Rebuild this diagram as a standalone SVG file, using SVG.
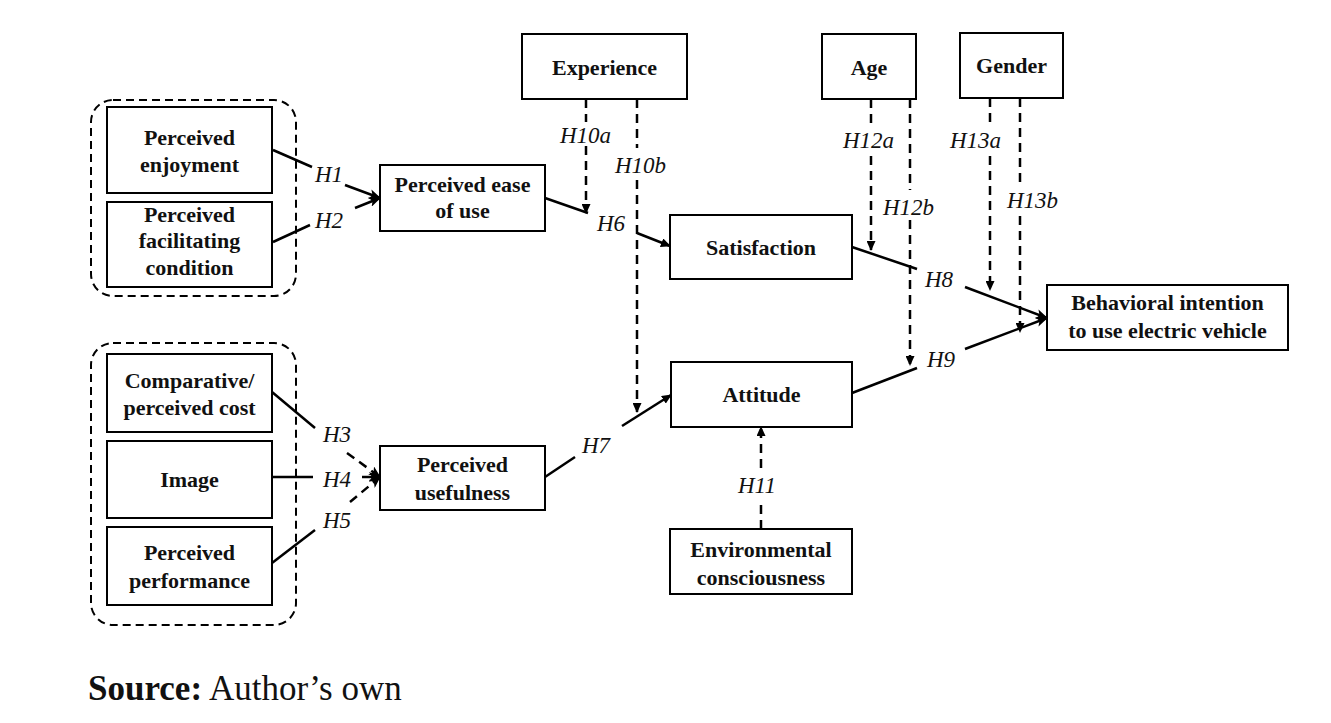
<svg xmlns="http://www.w3.org/2000/svg" width="1331" height="723" viewBox="0 0 1331 723">
<defs>
<marker id="ah" markerUnits="userSpaceOnUse" markerWidth="12" markerHeight="10" refX="11" refY="5" orient="auto"><path d="M0,0 L12,5 L0,10 L3,5 Z" fill="#000"/></marker>
<marker id="ahs" markerUnits="userSpaceOnUse" markerWidth="10" markerHeight="9" refX="9" refY="4.5" orient="auto"><path d="M0,0 L10,4.5 L0,9 Z" fill="#000"/></marker>
<style>
.box{fill:#fff;stroke:#000;stroke-width:2}
.grp{fill:none;stroke:#000;stroke-width:2;stroke-dasharray:8 5}
.t{font-family:"Liberation Serif","Times New Roman",serif;font-weight:bold;font-size:22px;text-anchor:middle;fill:#111}
.h{font-family:"Liberation Serif","Times New Roman",serif;font-style:italic;font-size:23px;fill:#111}
.s{stroke:#000;stroke-width:2.5;fill:none}
.d{stroke:#000;stroke-width:2.5;fill:none;stroke-dasharray:9 6}
</style>
</defs>
<rect width="1331" height="723" fill="#fff"/>
<g id="groups">
<rect class="grp" x="91" y="100" width="205" height="196" rx="22"/>
<rect class="grp" x="91" y="343" width="205" height="282" rx="22"/>
</g>
<g id="connectors">
<line class="s" x1="273" y1="150" x2="312" y2="167"/>
<line class="s" x1="345" y1="185" x2="380" y2="198" marker-end="url(#ah)"/>
<line class="s" x1="273" y1="242" x2="310" y2="225"/>
<line class="s" x1="355" y1="208" x2="380" y2="198" marker-end="url(#ah)"/>
<line class="s" x1="545" y1="198" x2="588" y2="213"/>
<line class="s" x1="637" y1="233" x2="670" y2="246" marker-end="url(#ahs)"/>
<line class="d" x1="586" y1="99" x2="586" y2="122"/>
<line class="d" x1="586" y1="146" x2="586" y2="213" marker-end="url(#ahs)"/>
<line class="d" x1="637" y1="99" x2="637" y2="148"/>
<line class="d" x1="637" y1="180" x2="637" y2="412" marker-end="url(#ahs)"/>
<line class="d" x1="871" y1="99" x2="871" y2="126"/>
<line class="d" x1="871" y1="156" x2="871" y2="250" marker-end="url(#ahs)"/>
<line class="d" x1="910" y1="99" x2="910" y2="190"/>
<line class="d" x1="910" y1="220" x2="910" y2="365" marker-end="url(#ahs)"/>
<line class="d" x1="990" y1="98" x2="990" y2="126"/>
<line class="d" x1="990" y1="156" x2="990" y2="290" marker-end="url(#ahs)"/>
<line class="d" x1="1020" y1="98" x2="1020" y2="182"/>
<line class="d" x1="1020" y1="216" x2="1020" y2="332" marker-end="url(#ahs)"/>
<line class="s" x1="852" y1="247" x2="917" y2="269"/>
<line class="s" x1="965" y1="287" x2="1047" y2="318" marker-end="url(#ah)"/>
<line class="s" x1="852" y1="393" x2="917" y2="368"/>
<line class="s" x1="965" y1="349" x2="1047" y2="318" marker-end="url(#ah)"/>
<line class="s" x1="545" y1="477" x2="575" y2="457"/>
<line class="s" x1="622" y1="426" x2="671" y2="395" marker-end="url(#ahs)"/>
<line class="d" x1="761" y1="529" x2="761" y2="503"/>
<line class="d" x1="761" y1="468" x2="761" y2="427" marker-end="url(#ahs)"/>
<line class="s" x1="272" y1="392" x2="315" y2="428"/>
<line class="d" x1="347" y1="453" x2="380" y2="477" marker-end="url(#ah)"/>
<line class="s" x1="272" y1="477" x2="313" y2="477"/>
<line class="s" x1="362" y1="477" x2="380" y2="477" marker-end="url(#ah)"/>
<line class="s" x1="272" y1="563" x2="315" y2="530"/>
<line class="d" x1="350" y1="502" x2="380" y2="477" marker-end="url(#ah)"/>
</g>
<g id="labels">
<text class="h" x="315" y="182">H1</text>
<text class="h" x="315" y="228">H2</text>
<text class="h" x="597" y="231">H6</text>
<text class="h" x="560" y="143">H10a</text>
<text class="h" x="615" y="173">H10b</text>
<text class="h" x="843" y="148">H12a</text>
<text class="h" x="883" y="215">H12b</text>
<text class="h" x="950" y="148">H13a</text>
<text class="h" x="1007" y="208">H13b</text>
<text class="h" x="925" y="287">H8</text>
<text class="h" x="927" y="367">H9</text>
<text class="h" x="582" y="453">H7</text>
<text class="h" x="738" y="493">H11</text>
<text class="h" x="323" y="442">H3</text>
<text class="h" x="323" y="487">H4</text>
<text class="h" x="323" y="528">H5</text>
</g>
<g id="pe"><rect class="box" x="107" y="107" width="165" height="86"/><text class="t" x="189.5" y="145">Perceived</text><text class="t" x="189.5" y="172">enjoyment</text></g>
<g id="pfc"><rect class="box" x="107" y="202" width="165" height="85"/><text class="t" x="189.5" y="222">Perceived</text><text class="t" x="189.5" y="248">facilitating</text><text class="t" x="189.5" y="275">condition</text></g>
<g id="peou"><rect class="box" x="380" y="165" width="165" height="66"/><text class="t" x="462.5" y="192">Perceived ease</text><text class="t" x="462.5" y="218">of use</text></g>
<g id="experience"><rect class="box" x="522" y="34" width="165" height="65"/><text class="t" x="604.5" y="75">Experience</text></g>
<g id="satisfaction"><rect class="box" x="670" y="215" width="182" height="64"/><text class="t" x="761" y="255">Satisfaction</text></g>
<g id="age"><rect class="box" x="822" y="34" width="94" height="65"/><text class="t" x="869" y="75">Age</text></g>
<g id="gender"><rect class="box" x="960" y="33" width="103" height="65"/><text class="t" x="1011.5" y="73">Gender</text></g>
<g id="bi"><rect class="box" x="1047" y="285" width="241" height="65"/><text class="t" x="1167.5" y="310">Behavioral intention</text><text class="t" x="1167.5" y="338">to use electric vehicle</text></g>
<g id="attitude"><rect class="box" x="671" y="362" width="181" height="65"/><text class="t" x="761.5" y="402">Attitude</text></g>
<g id="ec"><rect class="box" x="670" y="529" width="182" height="65"/><text class="t" x="761" y="557">Environmental</text><text class="t" x="761" y="585">consciousness</text></g>
<g id="pu"><rect class="box" x="380" y="446" width="165" height="64"/><text class="t" x="462.5" y="472">Perceived</text><text class="t" x="462.5" y="500">usefulness</text></g>
<g id="cost"><rect class="box" x="107" y="354" width="165" height="78"/><text class="t" x="189.5" y="388">Comparative/</text><text class="t" x="189.5" y="415">perceived cost</text></g>
<g id="image"><rect class="box" x="107" y="441" width="165" height="77"/><text class="t" x="189.5" y="487">Image</text></g>
<g id="pp"><rect class="box" x="107" y="527" width="165" height="78"/><text class="t" x="189.5" y="560">Perceived</text><text class="t" x="189.5" y="588">performance</text></g>
<text x="88" y="700" font-family="Liberation Serif, Times New Roman, serif" font-size="35" fill="#111"><tspan font-weight="bold">Source:</tspan> Author’s own</text>
</svg>
